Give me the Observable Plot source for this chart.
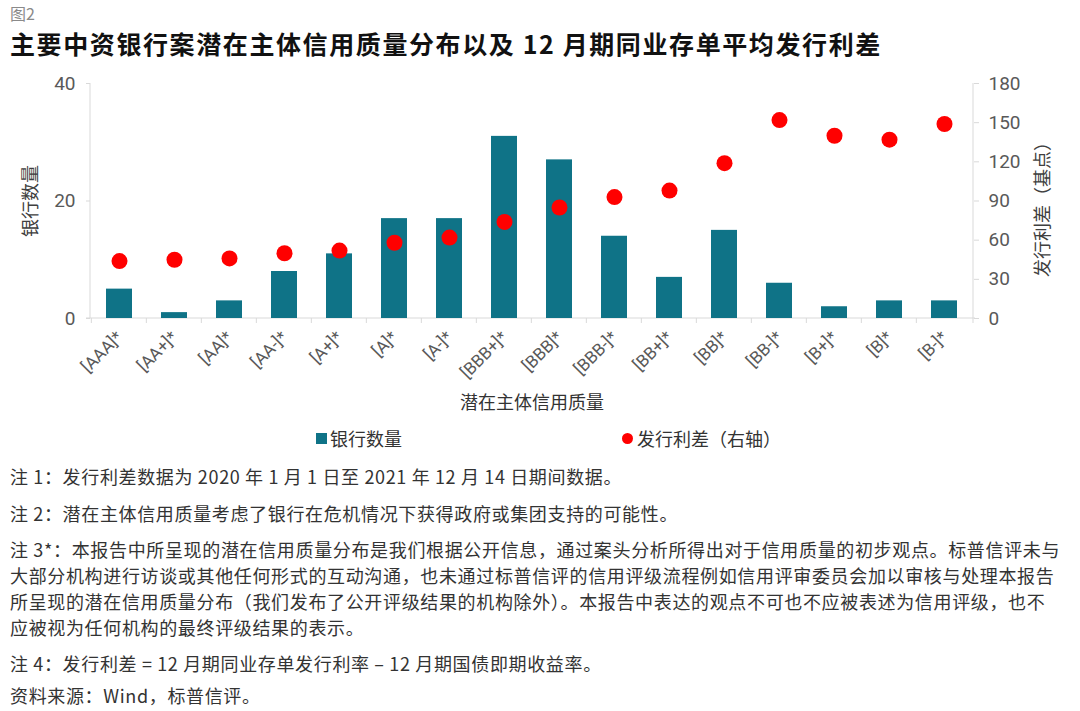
<!DOCTYPE html>
<html>
<head>
<meta charset="utf-8">
<script src="https://cdn.jsdelivr.net/npm/d3@7"></script>
<script src="https://cdn.jsdelivr.net/npm/@observablehq/plot@0.6"></script>
<style>
  html, body { margin: 0; padding: 0; background: #ffffff; }
  body { width: 1080px; height: 711px; overflow: hidden; position: relative;
         font-family: "Noto Sans CJK SC", "Noto Sans", sans-serif; color: #333; }
  .abs { position: absolute; white-space: nowrap; }
  #fig { left: 10px; top: 1px; font-size: 16px; color: #8a8a8a; }
  #title { left: 10px; top: 25px; font-size: 25px; font-weight: 700; color: #111; letter-spacing: 1.6px; }
  #chart { left: 0; top: 70px; }
  .legend { top: 425px; font-size: 18px; color: #333; display: flex; align-items: center; }
  .swatch { display: inline-block; width: 11px; height: 11px; background: #0f7387; margin-right: 3px; }
  .disc { display: inline-block; width: 11px; height: 11px; border-radius: 50%; background: #ff0000; margin-right: 4px; }
  .note { left: 10px; font-size: 18px; line-height: 26px; color: #333; letter-spacing: 0.65px; }
</style>
</head>
<body>
<div id="fig" class="abs">图2</div>
<div id="title" class="abs">主要中资银行案潜在主体信用质量分布以及 12 月期同业存单平均发行利差</div>
<div id="chart" class="abs"></div>
<div class="abs legend" style="left:316px"><span class="swatch"></span>银行数量</div>
<div class="abs legend" style="left:622px"><span class="disc"></span>发行利差（右轴）</div>

<div class="abs note" style="top:463px">注 1：发行利差数据为 2020 年 1 月 1 日至 2021 年 12 月 14 日期间数据。</div>
<div class="abs note" style="top:500px">注 2：潜在主体信用质量考虑了银行在危机情况下获得政府或集团支持的可能性。</div>
<div class="abs note" style="top:536px">注 3*：本报告中所呈现的潜在信用质量分布是我们根据公开信息，通过案头分析所得出对于信用质量的初步观点。标普信评未与<br>大部分机构进行访谈或其他任何形式的互动沟通，也未通过标普信评的信用评级流程例如信用评审委员会加以审核与处理本报告<br>所呈现的潜在信用质量分布（我们发布了公开评级结果的机构除外）。本报告中表达的观点不可也不应被表述为信用评级，也不<br>应被视为任何机构的最终评级结果的表示。</div>
<div class="abs note" style="top:650px">注 4：发行利差 = 12 月期同业存单发行利率 – 12 月期国债即期收益率。</div>
<div class="abs note" style="top:682px">资料来源：Wind，标普信评。</div>

<script>
// Potential issuer credit quality buckets
const ratings = ["[AAA]*", "[AA+]*", "[AA]*", "[AA-]*", "[A+]*", "[A]*", "[A-]*", "[BBB+]*",
                 "[BBB]*", "[BBB-]*", "[BB+]*", "[BB]*", "[BB-]*", "[B+]*", "[B]*", "[B-]*"];
// Number of banks in each bucket (left axis)
const bankCounts = [5, 1, 3, 8, 11, 17, 17, 31, 27, 14, 7, 15, 6, 2, 3, 3];
// Average 12M NCD issuance spread, bp (right axis)
const spreads = [44, 45, 46, 50, 52, 58, 62, 74, 85, 93, 98, 119, 152, 140, 137, 149];
// Axis ticks
const leftTicks = [0, 20, 40];
const rightTicks = [0, 30, 60, 90, 120, 150, 180];

const rows = ratings.map((r, i) => ({ rating: r, count: bankCounts[i], spread: spreads[i] }));

const leftMax = 40, rightMax = 180;
const k = leftMax / rightMax;          // right-axis units -> left-axis units
const padInner = 0.53;
const axisGrey = "#d9d9d9";
const tickText = "#595959";
const numFont = "Roboto, 'Liberation Sans', sans-serif";
const cjkFont = "'Noto Sans CJK SC', sans-serif";

// Axis lines, baseline and category boundary ticks
function frameLines(index, scales, values, dims) {
  const g = d3.create("svg:g").attr("stroke", axisGrey).attr("stroke-width", 1).attr("fill", "none");
  const x0 = dims.marginLeft, x1 = dims.width - dims.marginRight;
  const yt = dims.marginTop, yb = dims.height - dims.marginBottom;
  g.append("line").attr("x1", x0 - 4).attr("x2", x1 + 2).attr("y1", yb).attr("y2", yb);
  g.append("line").attr("x1", x0).attr("x2", x0).attr("y1", yt).attr("y2", yb);
  g.append("line").attr("x1", x1).attr("x2", x1).attr("y1", yt).attr("y2", yb);
  const xs = scales.x;
  const bw = typeof xs.bandwidth === "function" ? xs.bandwidth() : xs.bandwidth;
  const step = bw / (1 - padInner);
  ratings.forEach((c) => {
    const bx = xs(c) - (step - bw) / 2;
    g.append("line").attr("x1", bx).attr("x2", bx).attr("y1", yb).attr("y2", yb + 5);
  });
  g.append("line").attr("x1", x1).attr("x2", x1).attr("y1", yb).attr("y2", yb + 5);
  return g.node();
}

const chart = Plot.plot({
  width: 1080,
  height: 350,
  marginTop: 13,
  marginLeft: 90,
  marginRight: 107,
  marginBottom: 102,
  style: { background: "transparent", fontFamily: numFont },
  x: { domain: ratings, paddingInner: padInner, paddingOuter: padInner / 2, axis: null },
  y: { domain: [0, leftMax], axis: null },
  marks: [
    frameLines,
    Plot.barY(rows, { x: "rating", y: "count", fill: "#0f7387" }),
    Plot.dot(rows, { x: "rating", y: (d) => d.spread * k, r: 8, fill: "#ff0000", stroke: "none" }),
    Plot.axisY(leftTicks, {
      anchor: "left", tickSize: 4, tickPadding: 11, stroke: axisGrey, color: tickText,
      fontSize: 19, label: null
    }),
    Plot.axisY(rightTicks.map((v) => v * k), {
      anchor: "right", tickSize: 5, tickPadding: 10, stroke: axisGrey, color: tickText,
      fontSize: 19, label: null, tickFormat: (d) => String(Math.round(d / k))
    }),
    Plot.axisX({
      tickSize: 0, tickPadding: 16, tickRotate: -45, color: tickText,
      fontSize: 17, label: null
    }),
    Plot.text(["银行数量"], {
      frameAnchor: "left", textAnchor: "middle", text: (d) => d, rotate: -90, dx: -59,
      fontSize: 18, fill: "#404040", fontFamily: cjkFont
    }),
    Plot.text(["发行利差（基点）"], {
      frameAnchor: "right", textAnchor: "middle", text: (d) => d, rotate: -90, dx: 70, dy: 4,
      fontSize: 18, fill: "#404040", fontFamily: cjkFont
    }),
    Plot.text(["潜在主体信用质量"], {
      frameAnchor: "bottom", text: (d) => d, dy: 90, fontSize: 18,
      fill: "#333", fontFamily: cjkFont
    })
  ]
});

document.getElementById("chart").appendChild(chart);
</script>
</body>
</html>
